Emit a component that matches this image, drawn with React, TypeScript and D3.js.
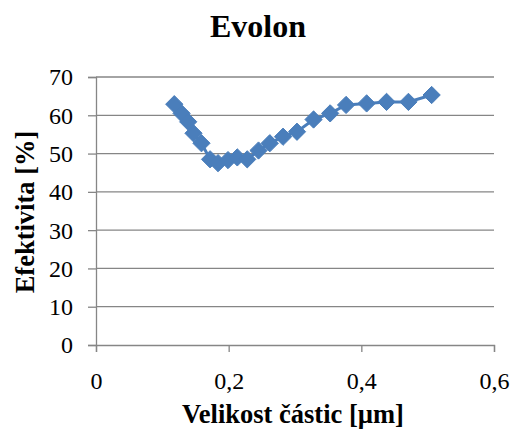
import { useEffect, useRef } from "react";
import * as d3 from "d3";

// particle size [µm]
const sizes = [
  0.118, 0.129, 0.139, 0.147, 0.159, 0.172, 0.184, 0.199, 0.213, 0.228, 0.245,
  0.262, 0.282, 0.303, 0.328, 0.353, 0.377, 0.408, 0.438, 0.471, 0.506,
];
// efficiency [%]
const efficiency = [
  62.9, 60.5, 58.3, 55.3, 52.7, 48.5, 47.5, 48.3, 49.0, 48.5, 50.8, 52.7, 54.4,
  55.7, 58.9, 60.5, 62.7, 63.1, 63.5, 63.5, 65.3,
];
const xTicks = [0, 0.2, 0.4, 0.6];
const yTicks = [0, 10, 20, 30, 40, 50, 60, 70];

export default function App() {
  const ref = useRef<SVGSVGElement>(null);

  useEffect(() => {
    if (!ref.current) return;
    const svg = d3.select(ref.current);
    svg.selectAll("*").remove();

    const width = 516;
    const height = 430;
    const margin = { top: 77, right: 22, bottom: 85, left: 96 };
    const font = "Liberation Serif";
    const grey = "#868686";
    const blue = "#4A7EBB";

    const x = d3.scaleLinear().domain([0, 0.6]).range([margin.left, width - margin.right]);
    const y = d3.scaleLinear().domain([0, 70]).range([height - margin.bottom, margin.top]);

    svg.attr("width", width).attr("height", height)
      .attr("font-family", font)
      .style("display", "block");

    // gridlines
    svg.append("g")
      .selectAll("line")
      .data(yTicks.slice(1))
      .enter()
      .append("line")
      .attr("x1", x(0))
      .attr("x2", x(0.6))
      .attr("y1", (d) => y(d))
      .attr("y2", (d) => y(d))
      .attr("stroke", grey)
      .attr("stroke-width", 1.3);

    // axes
    const yAxis = svg.append("g")
      .attr("transform", `translate(${x(0)},0)`)
      .call(d3.axisLeft(y).tickValues(yTicks).tickSize(8).tickPadding(15).tickFormat(d3.format("d")));
    const xAxis = svg.append("g")
      .attr("transform", `translate(0,${y(0)})`)
      .call(
        d3.axisBottom(x)
          .tickValues(xTicks)
          .tickSize(7)
          .tickPadding(14)
          .tickFormat((d) => (d === 0 ? "0" : d3.format(".1f")(d as number).replace(".", ",")))
      );
    [xAxis, yAxis].forEach((g) => {
      g.attr("font-family", font).attr("font-size", 24);
      g.select(".domain").attr("stroke", grey).attr("stroke-width", 1.3);
      g.selectAll(".tick line").attr("stroke", grey).attr("stroke-width", 1.3);
      g.selectAll(".tick text").attr("fill", "#000");
    });
    yAxis.selectAll(".tick text").attr("dy", "0.33em");
    xAxis.selectAll(".tick text").attr("y", 44).attr("dy", 0);

    const pts = sizes.map((s, i) => [s, efficiency[i]] as [number, number]);

    // series line
    svg.append("path")
      .datum(pts)
      .attr("fill", "none")
      .attr("stroke", blue)
      .attr("stroke-width", 3)
      .attr("d", d3.line<[number, number]>().x((d) => x(d[0])).y((d) => y(d[1])));

    // diamond markers
    svg.append("g")
      .selectAll("path")
      .data(pts)
      .enter()
      .append("path")
      .attr("transform", (d) => `translate(${x(d[0])},${y(d[1])})`)
      .attr("d", d3.symbol().type(d3.symbolDiamond2).size(190)())
      .attr("fill", blue)
      .attr("stroke", blue)
      .attr("stroke-width", 1);

    // title
    svg.append("text")
      .attr("x", 258)
      .attr("y", 37)
      .attr("text-anchor", "middle")
      .attr("font-weight", "bold")
      .attr("font-size", 32)
      .text("Evolon");

    // axis titles
    svg.append("text")
      .attr("x", 293)
      .attr("y", 423)
      .attr("text-anchor", "middle")
      .attr("font-weight", "bold")
      .attr("font-size", 26.5)
      .text("Velikost částic [µm]");

    svg.append("text")
      .attr("transform", "translate(34,212) rotate(-90)")
      .attr("text-anchor", "middle")
      .attr("font-weight", "bold")
      .attr("font-size", 26.5)
      .text("Efektivita [%]");
  }, []);

  return (
    <div style={{ position: "absolute", left: 0, top: 0 }}>
      <svg ref={ref}></svg>
    </div>
  );
}
